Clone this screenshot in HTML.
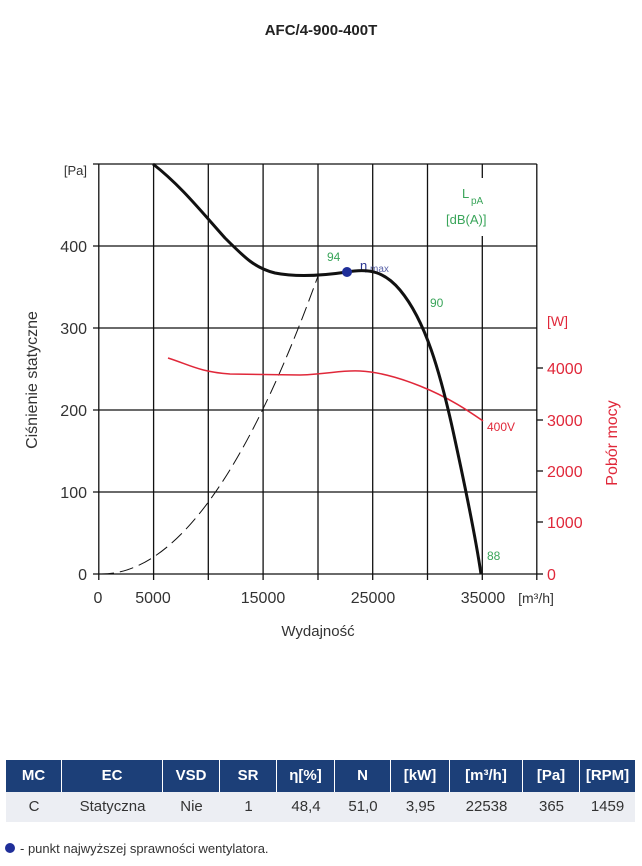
<!DOCTYPE html>
<html><head><meta charset="utf-8"><style>
body{margin:0;width:642px;height:866px;background:#fff;font-family:"Liberation Sans","DejaVu Sans",sans-serif;overflow:hidden}
.row{position:absolute;left:6px;width:629px;display:flex;font-size:15px}
.row div{box-sizing:border-box;text-align:center;flex:none}
.h{top:760px;height:32px;background:#1c3f78;color:#fff;font-weight:bold;line-height:32px}
.h div{border-right:1px solid #fff}
.h div:last-child{border-right:none}
.r{top:792px;height:30px;background:#eceef3;color:#333;line-height:30px}
</style></head><body>
<svg width="642" height="866" style="position:absolute;left:0;top:0" font-family="Liberation Sans, DejaVu Sans, sans-serif">
<text x="321" y="35" font-size="15" text-anchor="middle" fill="#222" font-weight="bold">AFC/4-900-400T</text>
<g stroke="#111" stroke-width="1.3" fill="none">
<line x1="98.8" y1="164" x2="98.8" y2="580"/>
<line x1="153.6" y1="164" x2="153.6" y2="580"/>
<line x1="208.3" y1="164" x2="208.3" y2="580"/>
<line x1="263.1" y1="164" x2="263.1" y2="580"/>
<line x1="318" y1="164" x2="318" y2="580"/>
<line x1="372.7" y1="164" x2="372.7" y2="580"/>
<line x1="427.5" y1="164" x2="427.5" y2="580"/>
<line x1="482.3" y1="164" x2="482.3" y2="178"/>
<line x1="482.3" y1="236" x2="482.3" y2="580"/>
<line x1="536.8" y1="164" x2="536.8" y2="580"/>
<line x1="93" y1="164" x2="536.8" y2="164"/>
<line x1="93" y1="246" x2="536.8" y2="246"/>
<line x1="93" y1="328" x2="536.8" y2="328"/>
<line x1="93" y1="410" x2="536.8" y2="410"/>
<line x1="93" y1="492" x2="536.8" y2="492"/>
<line x1="93" y1="574" x2="536.8" y2="574"/>
<line x1="536.8" y1="368" x2="543" y2="368"/>
<line x1="536.8" y1="420" x2="543" y2="420"/>
<line x1="536.8" y1="471" x2="543" y2="471"/>
<line x1="536.8" y1="522" x2="543" y2="522"/>
<line x1="536.8" y1="574" x2="543" y2="574"/>
</g>
<g font-size="16" fill="#333" text-anchor="end">
<text x="87" y="175" font-size="13">[Pa]</text>
<text x="87" y="252">400</text><text x="87" y="334">300</text>
<text x="87" y="416">200</text><text x="87" y="498">100</text><text x="87" y="580">0</text>
</g>
<g font-size="16" fill="#333" text-anchor="middle">
<text x="98" y="603">0</text><text x="153" y="603">5000</text><text x="263" y="603">15000</text>
<text x="373" y="603">25000</text><text x="483" y="603">35000</text>
<text x="536" y="603" font-size="14">[m³/h]</text>
<text x="318" y="636" font-size="15">Wydajność</text>
</g>
<text transform="translate(37,380) rotate(-90)" font-size="16" fill="#333" text-anchor="middle">Ciśnienie statyczne</text>
<text transform="translate(617,443) rotate(-90)" font-size="16" fill="#e0283a" text-anchor="middle">Pobór mocy</text>
<g font-size="16" fill="#e0283a">
<text x="547" y="326" font-size="14">[W]</text>
<text x="547" y="374">4000</text><text x="547" y="426">3000</text>
<text x="547" y="477">2000</text><text x="547" y="528">1000</text><text x="547" y="580">0</text>
<text x="487" y="431" font-size="12">400V</text>
</g>
<g fill="#3aa55a" font-size="12">
<text x="327" y="261">94</text><text x="430" y="307">90</text><text x="487" y="560">88</text>
<text x="462" y="198" font-size="13">L</text><text x="471" y="204" font-size="10">pA</text>
<text x="446" y="224" font-size="13">[dB(A)]</text>
</g>
<text x="360" y="270" fill="#2a3590" font-size="13">η</text><text x="370" y="272" fill="#5a63a8" font-size="10">max</text>
<path d="M100,574 Q210,576 318,276" stroke="#111" stroke-width="1" fill="none" stroke-dasharray="14,6"/>
<path d="M168,358 C190,365 200,372 230,374 L300,375 C330,374 340,370 360,371 C380,372 400,378 420,386 C450,398 470,412 483,421" stroke="#e0283a" stroke-width="1.5" fill="none"/>
<path d="M153,164 C180,185 200,210 225,238 C245,258 255,268 275,273 C295,277 320,276 347,272 C370,268 385,272 400,290 C425,320 440,370 455,440 C468,500 476,540 481,574" stroke="#111" stroke-width="3" fill="none"/>
<circle cx="347" cy="272" r="5" fill="#1f2e99"/>
<circle cx="10" cy="848" r="5" fill="#1f2e99"/>
<text x="20" y="853" font-size="13" fill="#333">- punkt najwyższej sprawności wentylatora.</text>
</svg>
<div class="row h"><div style="width:56px">MC</div><div style="width:101px">EC</div><div style="width:57px">VSD</div><div style="width:57px">SR</div><div style="width:58px">η[%]</div><div style="width:56px">N</div><div style="width:59px">[kW]</div><div style="width:73px">[m³/h]</div><div style="width:57px">[Pa]</div><div style="width:55px">[RPM]</div></div>
<div class="row r"><div style="width:56px">C</div><div style="width:101px">Statyczna</div><div style="width:57px">Nie</div><div style="width:57px">1</div><div style="width:58px">48,4</div><div style="width:56px">51,0</div><div style="width:59px">3,95</div><div style="width:73px">22538</div><div style="width:57px">365</div><div style="width:55px">1459</div></div>
</body></html>
